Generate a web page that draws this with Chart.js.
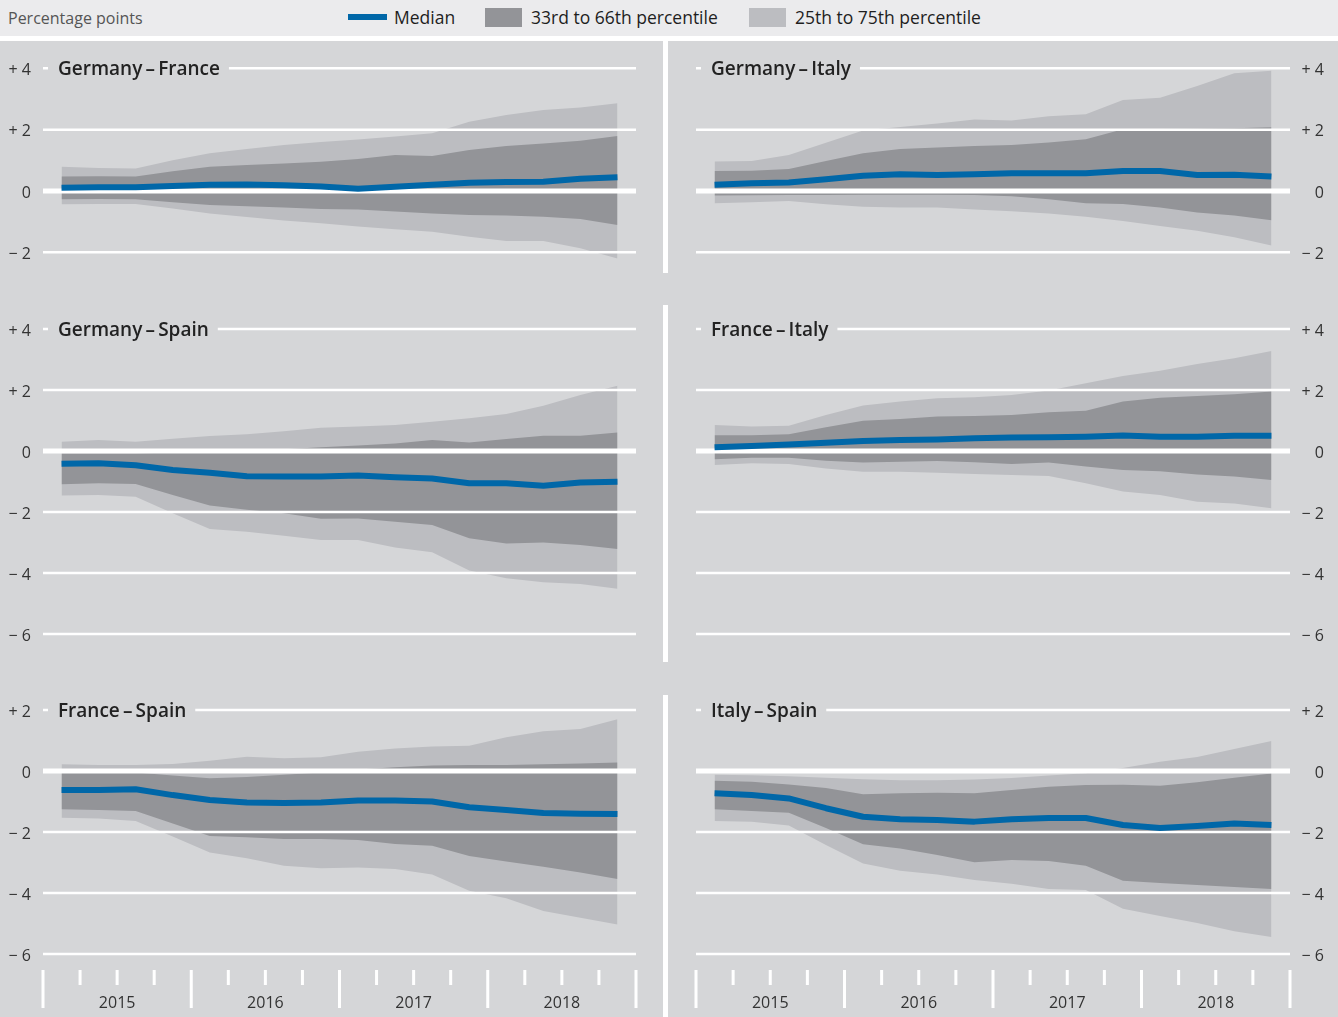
<!DOCTYPE html>
<html>
<head>
<meta charset="utf-8">
<title>Percentile bands</title>
<script src="https://cdn.jsdelivr.net/npm/chart.js@4.4.1/dist/chart.umd.min.js"></script>
<style>
  html, body { margin: 0; padding: 0; }
  body {
    width: 1338px; height: 1017px; position: relative; overflow: hidden;
    background: #d5d6d8; font-family: "Open Sans", sans-serif;
  }
  #legend { position: absolute; left: 0; top: 0; width: 1338px; height: 36px; background: #ebebed; }
  #gap { position: absolute; left: 0; top: 36px; width: 1338px; height: 5px; background: #fff; }
  .unit { position: absolute; left: 8px; top: 0; line-height: 36px; font-size: 16px; color: #555; }
  .item { position: absolute; top: 0; line-height: 35px; font-size: 17.5px; color: #1e1e1e; }
  .swatch { position: absolute; }
  .divider { position: absolute; left: 663px; width: 5px; background: #fff; }
  canvas { position: absolute; }
</style>
</head>
<body>
<div id="legend">
  <span class="unit">Percentage points</span>
  <div class="swatch" style="left:348px; top:14px; width:39px; height:6px; background:#0067a8;"></div>
  <span class="item" style="left:394px;">Median</span>
  <div class="swatch" style="left:485px; top:8px; width:37px; height:19px; background:#939498;"></div>
  <span class="item" style="left:531px;">33rd to 66th percentile</span>
  <div class="swatch" style="left:749px; top:8px; width:37px; height:19px; background:#bcbdc1;"></div>
  <span class="item" style="left:795px;">25th to 75th percentile</span>
</div>
<div id="gap"></div>
<div class="divider" style="top:41px; height:232px;"></div>
<div class="divider" style="top:305px; height:357px;"></div>
<div class="divider" style="top:695px; height:322px;"></div>

<canvas id="de-fr"></canvas>
<canvas id="de-it"></canvas>
<canvas id="de-es"></canvas>
<canvas id="fr-it"></canvas>
<canvas id="fr-es"></canvas>
<canvas id="it-es"></canvas>

<script>
// ---- data ----
const QUARTERS = ['2015 Q1', '2015 Q2', '2015 Q3', '2015 Q4',
                  '2016 Q1', '2016 Q2', '2016 Q3', '2016 Q4',
                  '2017 Q1', '2017 Q2', '2017 Q3', '2017 Q4',
                  '2018 Q1', '2018 Q2', '2018 Q3', '2018 Q4'];
const YEARS = ['2015', '2016', '2017', '2018'];

const TICKS_TOP = [-2, 0, 2, 4];
const TICKS_MIDDLE = [-6, -4, -2, 0, 2, 4];
const TICKS_BOTTOM = [-6, -4, -2, 0, 2];

// Germany - France
const DE_FR_MEDIAN = [0.11, 0.12, 0.12, 0.16, 0.2, 0.21, 0.19, 0.15, 0.07, 0.14, 0.2, 0.27, 0.29, 0.3, 0.4, 0.45];
const DE_FR_P66 = [0.47, 0.48, 0.47, 0.64, 0.79, 0.85, 0.9, 0.95, 1.04, 1.17, 1.14, 1.34, 1.47, 1.55, 1.64, 1.79];
const DE_FR_P33 = [-0.27, -0.26, -0.27, -0.37, -0.46, -0.5, -0.54, -0.59, -0.6, -0.67, -0.73, -0.78, -0.8, -0.84, -0.91, -1.11];
const DE_FR_P75 = [0.79, 0.75, 0.73, 1.0, 1.23, 1.37, 1.5, 1.6, 1.68, 1.78, 1.88, 2.26, 2.48, 2.64, 2.72, 2.86];
const DE_FR_P25 = [-0.43, -0.42, -0.42, -0.57, -0.73, -0.85, -0.96, -1.05, -1.16, -1.25, -1.33, -1.49, -1.63, -1.63, -1.87, -2.2];

// Germany - Italy
const DE_IT_MEDIAN = [0.2, 0.25, 0.28, 0.38, 0.5, 0.55, 0.52, 0.55, 0.58, 0.58, 0.58, 0.65, 0.65, 0.52, 0.53, 0.47];
const DE_IT_P66 = [0.65, 0.66, 0.72, 0.98, 1.23, 1.37, 1.42, 1.47, 1.5, 1.58, 1.69, 2.01, 2.02, 2.03, 2.05, 2.08];
const DE_IT_P33 = [-0.15, -0.14, -0.13, -0.13, -0.12, -0.12, -0.12, -0.13, -0.17, -0.27, -0.4, -0.42, -0.54, -0.7, -0.8, -0.95];
const DE_IT_P75 = [0.96, 0.98, 1.17, 1.57, 1.97, 2.09, 2.2, 2.33, 2.3, 2.44, 2.5, 2.97, 3.04, 3.42, 3.84, 3.92];
const DE_IT_P25 = [-0.4, -0.37, -0.33, -0.43, -0.51, -0.54, -0.54, -0.6, -0.66, -0.73, -0.84, -0.98, -1.14, -1.3, -1.51, -1.78];

// Germany - Spain
const DE_ES_MEDIAN = [-0.42, -0.4, -0.47, -0.62, -0.71, -0.83, -0.84, -0.84, -0.8, -0.86, -0.9, -1.06, -1.06, -1.14, -1.03, -1.01];
const DE_ES_P66 = [-0.08, -0.08, -0.08, -0.05, -0.02, 0.02, 0.06, 0.12, 0.18, 0.25, 0.36, 0.28, 0.39, 0.5, 0.5, 0.61];
const DE_ES_P33 = [-1.09, -1.06, -1.08, -1.44, -1.79, -1.93, -2.04, -2.22, -2.21, -2.32, -2.43, -2.86, -3.03, -3.0, -3.08, -3.21];
const DE_ES_P75 = [0.3, 0.36, 0.3, 0.4, 0.49, 0.55, 0.65, 0.76, 0.8, 0.85, 0.96, 1.07, 1.21, 1.48, 1.84, 2.14];
const DE_ES_P25 = [-1.46, -1.44, -1.5, -2.04, -2.56, -2.65, -2.78, -2.92, -2.92, -3.16, -3.32, -3.92, -4.17, -4.3, -4.36, -4.52];

// France - Italy
const FR_IT_MEDIAN = [0.12, 0.16, 0.21, 0.27, 0.33, 0.36, 0.38, 0.42, 0.44, 0.45, 0.47, 0.51, 0.47, 0.47, 0.5, 0.5];
const FR_IT_P66 = [0.52, 0.52, 0.55, 0.78, 0.99, 1.05, 1.13, 1.15, 1.18, 1.27, 1.32, 1.62, 1.75, 1.8, 1.86, 1.95];
const FR_IT_P33 = [-0.27, -0.22, -0.22, -0.32, -0.38, -0.35, -0.33, -0.37, -0.43, -0.38, -0.51, -0.62, -0.66, -0.77, -0.84, -0.95];
const FR_IT_P75 = [0.85, 0.8, 0.83, 1.18, 1.49, 1.62, 1.73, 1.76, 1.84, 1.98, 2.22, 2.46, 2.63, 2.85, 3.04, 3.28];
const FR_IT_P25 = [-0.46, -0.4, -0.43, -0.57, -0.68, -0.68, -0.71, -0.75, -0.79, -0.82, -1.06, -1.33, -1.44, -1.66, -1.72, -1.88];

// France - Spain
const FR_ES_MEDIAN = [-0.62, -0.62, -0.6, -0.79, -0.95, -1.03, -1.05, -1.03, -0.97, -0.97, -1.0, -1.19, -1.28, -1.38, -1.4, -1.41];
const FR_ES_P66 = [-0.05, -0.05, -0.05, -0.15, -0.24, -0.2, -0.12, -0.05, 0.05, 0.12, 0.18, 0.2, 0.2, 0.22, 0.25, 0.28];
const FR_ES_P33 = [-1.25, -1.28, -1.31, -1.72, -2.13, -2.17, -2.23, -2.23, -2.26, -2.39, -2.45, -2.79, -2.97, -3.14, -3.33, -3.54];
const FR_ES_P75 = [0.22, 0.2, 0.2, 0.23, 0.34, 0.47, 0.42, 0.45, 0.63, 0.74, 0.8, 0.83, 1.11, 1.3, 1.38, 1.7];
const FR_ES_P25 = [-1.53, -1.56, -1.64, -2.15, -2.67, -2.86, -3.11, -3.19, -3.16, -3.21, -3.39, -3.93, -4.17, -4.59, -4.81, -5.03];

// Italy - Spain
const IT_ES_MEDIAN = [-0.73, -0.79, -0.9, -1.22, -1.5, -1.58, -1.61, -1.66, -1.58, -1.54, -1.54, -1.77, -1.87, -1.8, -1.72, -1.77];
const IT_ES_P66 = [-0.32, -0.35, -0.44, -0.56, -0.76, -0.73, -0.71, -0.73, -0.62, -0.52, -0.46, -0.45, -0.48, -0.37, -0.22, -0.08];
const IT_ES_P33 = [-1.25, -1.31, -1.37, -1.87, -2.4, -2.54, -2.75, -2.99, -2.92, -2.95, -3.11, -3.6, -3.67, -3.74, -3.8, -3.87];
const IT_ES_P75 = [-0.12, -0.14, -0.17, -0.22, -0.27, -0.3, -0.3, -0.28, -0.23, -0.15, -0.07, 0.1, 0.3, 0.46, 0.72, 0.98];
const IT_ES_P25 = [-1.64, -1.66, -1.79, -2.43, -3.03, -3.27, -3.39, -3.57, -3.7, -3.87, -3.9, -4.52, -4.75, -4.98, -5.25, -5.44];

// ---- look ----
const BLUE = '#0067a8';
const DARK = '#939498';
const LIGHT = '#bcbdc1';
const PANEL_BG = '#d5d6d8';
const FONT = '"Open Sans", sans-serif';

Chart.defaults.font.family = FONT;

// page geometry of the three rows and two columns
const ROWS = [
  { top: 41, height: 248, zeroY: 191, ppu: 30.67, ticks: TICKS_TOP, titleAt: 4 },
  { top: 289, height: 389, zeroY: 451, ppu: 30.5, ticks: TICKS_MIDDLE, titleAt: 4 },
  { top: 678, height: 339, zeroY: 771, ppu: 30.5, ticks: TICKS_BOTTOM, titleAt: 2, xAxis: true }
];
const COLS = [
  { left: 0, width: 663, axis: 'left', axisWidth: 43, padLeft: 0, padRight: 27 },
  { left: 668, width: 670, axis: 'right', axisWidth: 34, padLeft: 28, padRight: 14 }
];

const DASH = '\u2009\u2013\u2009';
const PANELS = [
  { id: 'de-fr', title: 'Germany' + DASH + 'France', row: 0, col: 0, median: DE_FR_MEDIAN, p66: DE_FR_P66, p33: DE_FR_P33, p75: DE_FR_P75, p25: DE_FR_P25 },
  { id: 'de-it', title: 'Germany' + DASH + 'Italy', row: 0, col: 1, median: DE_IT_MEDIAN, p66: DE_IT_P66, p33: DE_IT_P33, p75: DE_IT_P75, p25: DE_IT_P25 },
  { id: 'de-es', title: 'Germany' + DASH + 'Spain', row: 1, col: 0, median: DE_ES_MEDIAN, p66: DE_ES_P66, p33: DE_ES_P33, p75: DE_ES_P75, p25: DE_ES_P25 },
  { id: 'fr-it', title: 'France' + DASH + 'Italy', row: 1, col: 1, median: FR_IT_MEDIAN, p66: FR_IT_P66, p33: FR_IT_P33, p75: FR_IT_P75, p25: FR_IT_P25 },
  { id: 'fr-es', title: 'France' + DASH + 'Spain', row: 2, col: 0, median: FR_ES_MEDIAN, p66: FR_ES_P66, p33: FR_ES_P33, p75: FR_ES_P75, p25: FR_ES_P25 },
  { id: 'it-es', title: 'Italy' + DASH + 'Spain', row: 2, col: 1, median: IT_ES_MEDIAN, p66: IT_ES_P66, p33: IT_ES_P33, p75: IT_ES_P75, p25: IT_ES_P25 }
];

function tickText(v) {
  if (v > 0) return '+ ' + v;
  if (v < 0) return '\u2212 ' + Math.abs(v);
  return '0';
}

// each quarter sits in the middle of its slot on a 0..16 linear axis
function points(values) {
  return values.map((v, i) => ({ x: i + 0.5, y: v }));
}

// gridlines over the bands, title with a gap in the top line, year axis below
function decorPlugin(panel, row) {
  return {
    id: 'decor',
    beforeDatasetDraw(chart, args) {
      if (args.index !== 0) return; // median is drawn last
      const { ctx, chartArea } = chart;
      const y = chart.scales.y;
      ctx.save();
      ctx.strokeStyle = '#fff';
      row.ticks.forEach(v => {
        const py = y.getPixelForValue(v);
        ctx.lineWidth = v === 0 ? 5 : 2.5;
        ctx.beginPath();
        ctx.moveTo(chartArea.left, py);
        ctx.lineTo(chartArea.right, py);
        ctx.stroke();
      });

      const ty = y.getPixelForValue(row.titleAt);
      const tx = chartArea.left + 15;
      ctx.font = '600 19px ' + FONT;
      const w = ctx.measureText(panel.title).width;
      ctx.fillStyle = PANEL_BG;
      ctx.fillRect(tx - 10, ty - 4, w + 19, 8);
      ctx.fillStyle = '#222';
      ctx.textBaseline = 'alphabetic';
      ctx.textAlign = 'left';
      ctx.fillText(panel.title, tx, ty + 7);
      ctx.restore();
    },
    afterDraw(chart) {
      if (!row.xAxis) return;
      const { ctx, chartArea } = chart;
      const x = chart.scales.x;
      const base = chartArea.bottom;
      ctx.save();
      ctx.fillStyle = '#fff';
      for (let k = 0; k <= QUARTERS.length; k++) {
        const px = x.getPixelForValue(k);
        const tall = k % 4 === 0;
        ctx.fillRect(px - 1.5, base - 47, 3, tall ? 38 : 15);
      }
      ctx.fillStyle = '#333';
      ctx.font = '16px ' + FONT;
      ctx.textAlign = 'center';
      ctx.textBaseline = 'alphabetic';
      YEARS.forEach((yr, j) => {
        ctx.fillText(yr, x.getPixelForValue(j * 4 + 2), base - 9);
      });
      ctx.restore();
    }
  };
}

function makeChart(panel) {
  const row = ROWS[panel.row];
  const col = COLS[panel.col];
  const canvas = document.getElementById(panel.id);
  canvas.width = col.width;
  canvas.height = row.height;
  canvas.style.left = col.left + 'px';
  canvas.style.top = row.top + 'px';
  canvas.style.width = col.width + 'px';
  canvas.style.height = row.height + 'px';

  const yMax = (row.zeroY - row.top) / row.ppu;
  const yMin = (row.zeroY - row.top - row.height) / row.ppu;
  const band = { borderWidth: 0, borderColor: 'transparent', pointRadius: 0, tension: 0, showLine: false };

  return new Chart(canvas, {
    type: 'line',
    data: {
      datasets: [
        { label: 'Median', data: points(panel.median), borderColor: BLUE, borderWidth: 6,
          borderJoinStyle: 'round', pointRadius: 0, tension: 0, fill: false },
        Object.assign({ label: '66th percentile', data: points(panel.p66), fill: '+1', backgroundColor: DARK }, band),
        Object.assign({ label: '33rd percentile', data: points(panel.p33), fill: false }, band),
        Object.assign({ label: '75th percentile', data: points(panel.p75), fill: '+1', backgroundColor: LIGHT }, band),
        Object.assign({ label: '25th percentile', data: points(panel.p25), fill: false }, band)
      ]
    },
    options: {
      responsive: false,
      animation: false,
      devicePixelRatio: 1,
      layout: { padding: { left: col.padLeft, right: col.padRight, top: 0, bottom: 0 } },
      plugins: { legend: { display: false }, tooltip: { enabled: false }, title: { display: false } },
      scales: {
        x: { type: 'linear', min: 0, max: QUARTERS.length, display: false },
        y: {
          position: col.axis,
          min: yMin,
          max: yMax,
          grid: { display: false, drawTicks: false },
          border: { display: false },
          afterBuildTicks: s => { s.ticks = row.ticks.map(v => ({ value: v })); },
          afterFit: s => { s.width = col.axisWidth; s.paddingTop = 0; s.paddingBottom = 0; },
          ticks: {
            autoSkip: false,
            padding: 12,
            labelOffset: 2,
            crossAlign: col.axis === 'right' ? 'far' : 'near',
            color: '#333',
            font: { size: 16 },
            callback: v => tickText(v)
          }
        }
      }
    },
    plugins: [decorPlugin(panel, row)]
  });
}

PANELS.forEach(makeChart);
</script>
</body>
</html>
